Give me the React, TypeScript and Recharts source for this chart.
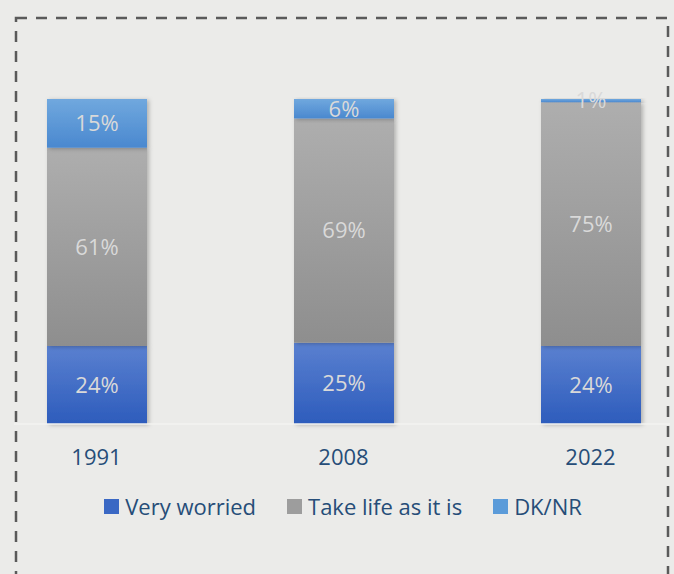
import { BarChart, Bar, XAxis, YAxis, Legend, LabelList } from "recharts"

const years = ["1991", "2008", "2022"]
const veryWorried = [24, 25, 24]
const takeLife = [61, 69, 75]
const dkNr = [15, 6, 1]

const SERIES = [
  { key: "worried", name: "Very worried", grad: "gWorried", swatch: "#3a68c4" },
  { key: "take", name: "Take life as it is", grad: "gTake", swatch: "#9d9d9d" },
  { key: "dk", name: "DK/NR", grad: "gDk", swatch: "#5b9bd9" },
]

const data = years.map((y, i) => ({
  year: y,
  worried: veryWorried[i],
  take: takeLife[i],
  dk: dkNr[i],
}))

const FONT = "'Open Sans', sans-serif"
const TEXT = "#264d78"

const renderLegend = () => (
  <div
    style={{
      display: "flex",
      justifyContent: "center",
      alignItems: "center",
      height: 30,
      fontFamily: FONT,
      fontSize: 22,
      color: TEXT,
    }}
  >
    {SERIES.map((s, i) => (
      <div
        key={s.key}
        style={{ display: "flex", alignItems: "center", marginLeft: i ? 31 : 0 }}
      >
        <span
          style={{
            width: 15,
            height: 15,
            background: s.swatch,
            display: "inline-block",
            marginRight: 6,
          }}
        />
        <span>{s.name}</span>
      </div>
    ))}
  </div>
)

const pct = (v: any) => `${v}%`

export default function App() {
  return (
    <div
      style={{
        position: "absolute",
        left: 0,
        top: 0,
        width: 674,
        height: 574,
        background: "#ebebe9",
        overflow: "hidden",
      }}
    >
      <div style={{ position: "absolute", left: -27.5, top: 0 }}>
        <BarChart
          width={741}
          height={574}
          data={data}
          margin={{ top: 99, right: 0, left: 0, bottom: 90 }}
          barSize={100}
        >
          <defs>
            <linearGradient id="gWorried" x1="0" y1="0" x2="0" y2="1">
              <stop offset="0%" stopColor="#5a80d0" />
              <stop offset="100%" stopColor="#2d5cbc" />
            </linearGradient>
            <linearGradient id="gTake" x1="0" y1="0" x2="0" y2="1">
              <stop offset="0%" stopColor="#aeaeae" />
              <stop offset="100%" stopColor="#8e8e8e" />
            </linearGradient>
            <linearGradient id="gDk" x1="0" y1="0" x2="0" y2="1">
              <stop offset="0%" stopColor="#70a8de" />
              <stop offset="100%" stopColor="#4a88cf" />
            </linearGradient>
            <filter id="shadow" x="-10%" y="-10%" width="130%" height="130%">
              <feDropShadow dx="2" dy="1" stdDeviation="2" floodColor="#000" floodOpacity="0.25" />
            </filter>
          </defs>
          <XAxis
            dataKey="year"
            axisLine={{ stroke: "#f3f3f1", strokeWidth: 1.5 }}
            tickLine={false}
            tickMargin={19}
            height={30}
            tick={{ fill: TEXT, fontSize: 22, fontFamily: FONT }}
          />
          <YAxis hide domain={[0, 100]} />
          <Legend verticalAlign="bottom" content={renderLegend} wrapperStyle={{ bottom: 53 }} />
          {SERIES.map((s) => (
            <Bar
              key={s.key}
              dataKey={s.key}
              name={s.name}
              stackId="a"
              fill={`url(#${s.grad})`}
              filter="url(#shadow)"
              isAnimationActive={false}
            >
              <LabelList
                dataKey={s.key}
                position="center"
                formatter={pct}
                fill="#d9d9d9"
                style={{ fontSize: 22, fontFamily: FONT }}
              />
            </Bar>
          ))}
        </BarChart>
      </div>
      <svg
        width={674}
        height={574}
        style={{ position: "absolute", left: 0, top: 0, pointerEvents: "none" }}
      >
        <rect x={0} y={0} width={14} height={574} fill="#ebebe9" />
        <rect x={670} y={0} width={4} height={574} fill="#ebebe9" />
        <rect
          x={16}
          y={18}
          width={652}
          height={600}
          fill="none"
          stroke="#5a5a5a"
          strokeWidth={2.5}
          strokeDasharray="11 9"
        />
      </svg>
    </div>
  )
}
